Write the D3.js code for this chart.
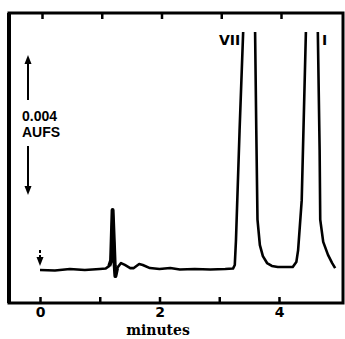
<!DOCTYPE html>
<html>
<head>
<meta charset="utf-8">
<script src="https://cdn.jsdelivr.net/npm/d3@7"></script>
<style>
  body { margin: 0; background: #fff; }
  svg { display: block; }
</style>
</head>
<body>
<svg id="chart" width="345" height="339"></svg>
<script>
// detector trace, time in minutes, signal in % of full scale
const times = [0, 0.25, 0.5, 0.75, 1.0, 1.1, 1.16, 1.19, 1.215, 1.235, 1.25, 1.262, 1.29,
  1.356, 1.42, 1.51, 1.57, 1.66, 1.72, 1.84, 2.0, 2.18, 2.34, 2.59, 2.85, 3.1, 3.23,
  3.26, 3.28, 3.34, 3.40, 3.50, 3.60, 3.62, 3.64, 3.68, 3.73, 3.80, 3.88, 3.98, 4.23,
  4.29, 4.32, 4.38, 4.45, 4.55, 4.65, 4.68, 4.69, 4.74, 4.82, 4.89, 4.94];
const signal = [0, -0.2, 0.4, 0, 0.4, 0.6, 1.7, 4, 25, 12, 2, -2.5, 0.8,
  2.9, 2.1, 0.8, 0.8, 2.5, 2.1, 0.8, 0.4, 0.8, 0.2, 0.4, 0.2, 0.4, 0.6,
  2.1, 12.5, 58, 99, 125, 99, 58, 21, 10.4, 5.8, 2.9, 1.7, 1.25, 1.25,
  3.3, 8.3, 29, 99, 125, 99, 50, 21, 11.7, 6.3, 2.9, 0.8];

const xTicks = [0, 1, 2, 3, 4];
const xLabels = ['0', '', '2', '', '4'];
const peakNames = ['VII', 'I'];
const peakTimes = [3.35, 4.72];

const svg = d3.select('#chart');
const fLeft = 9, fRight = 343, fTop = 13, fBottom = 303;

const x = d3.scaleLinear().domain([0, 4]).range([40, 279]);
const y = d3.scaleLinear().domain([0, 100]).range([270, 30]);

svg.append('defs').append('clipPath').attr('id', 'plot')
  .append('rect')
  .attr('x', fLeft).attr('y', 32)
  .attr('width', fRight - fLeft).attr('height', fBottom - 32);

const line = d3.line().x(d => x(d[0])).y(d => y(d[1]));

// trace
const pts = times.map((t, i) => [t, signal[i]]);
svg.append('path')
  .datum(pts)
  .attr('clip-path', 'url(#plot)')
  .attr('fill', 'none')
  .attr('stroke', '#000')
  .attr('stroke-width', 2.6)
  .attr('stroke-linejoin', 'round')
  .attr('d', line);

// thicker blob at the small spike
svg.append('path')
  .datum(pts.slice(6, 13))
  .attr('fill', 'none')
  .attr('stroke', '#000')
  .attr('stroke-width', 4)
  .attr('stroke-linejoin', 'round')
  .attr('d', line);

// frame
svg.append('rect')
  .attr('x', fLeft).attr('y', fTop)
  .attr('width', fRight - fLeft).attr('height', fBottom - fTop)
  .attr('fill', 'none').attr('stroke', '#000').attr('stroke-width', 3);
svg.append('line')
  .attr('x1', fLeft).attr('x2', fLeft).attr('y1', fTop).attr('y2', fBottom)
  .attr('stroke', '#000').attr('stroke-width', 4);

// bottom axis
const ax = svg.append('g')
  .attr('transform', `translate(0,${fBottom})`)
  .call(d3.axisBottom(x).tickValues(xTicks)
    .tickSize(-6).tickPadding(4)
    .tickFormat((d, i) => xLabels[i]));
ax.select('.domain').remove();
ax.selectAll('.tick line').attr('stroke', '#000').attr('stroke-width', 2.5);
ax.selectAll('.tick text')
  .attr('fill', '#000')
  .style('font', 'bold 14px "DejaVu Sans", sans-serif');

// top axis ticks
const axT = svg.append('g')
  .attr('transform', `translate(2,${fTop})`)
  .call(d3.axisTop(x).tickValues(xTicks).tickSize(-6).tickFormat(''));
axT.select('.domain').remove();
axT.selectAll('.tick line').attr('stroke', '#000').attr('stroke-width', 2.5);

svg.append('text')
  .attr('x', 158).attr('y', 335)
  .attr('text-anchor', 'middle')
  .style('font', 'bold 14px "DejaVu Serif", serif')
  .text('minutes');

// peak labels
svg.selectAll('text.peak')
  .data(peakNames)
  .join('text')
  .attr('class', 'peak')
  .attr('x', (d, i) => x(peakTimes[i]))
  .attr('y', 45)
  .attr('text-anchor', (d, i) => i === 0 ? 'end' : 'start')
  .style('font', 'bold 14px "DejaVu Sans", sans-serif')
  .text(d => d);

// scale bar
svg.append('text').attr('x', 22).attr('y', 121)
  .style('font', 'bold 14px "Liberation Sans", Arial, sans-serif').text('0.004');
svg.append('text').attr('x', 22).attr('y', 137)
  .style('font', 'bold 14px "Liberation Sans", Arial, sans-serif').text('AUFS');

const arrow = (x0, y0, y1, dash) => {
  const dir = y1 < y0 ? -1 : 1;
  svg.append('line')
    .attr('x1', x0).attr('x2', x0).attr('y1', y0).attr('y2', y1 - dir * 7)
    .attr('stroke', '#000').attr('stroke-width', 2)
    .attr('stroke-dasharray', dash || null);
  svg.append('path')
    .attr('d', `M${x0 - 3.5},${y1 - dir * 9}L${x0 + 3.5},${y1 - dir * 9}L${x0},${y1}Z`)
    .attr('fill', '#000');
};
arrow(28, 100, 55);
arrow(28, 146, 195);
arrow(40, 250, 266, '3,2');
</script>
</body>
</html>
